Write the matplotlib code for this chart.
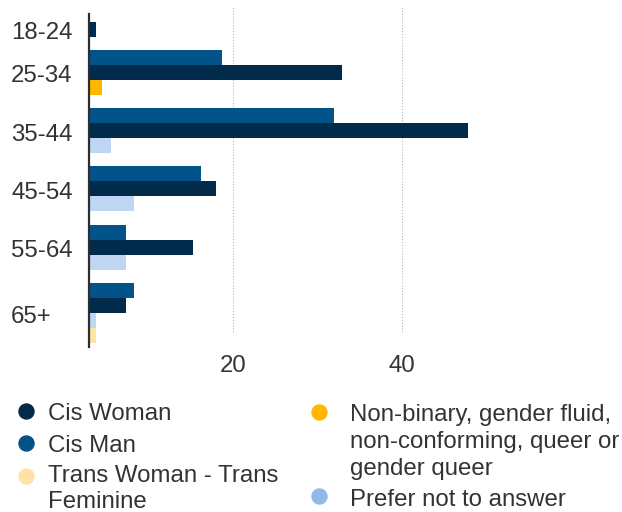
import matplotlib
matplotlib.use("Agg")
import matplotlib.pyplot as plt
from matplotlib.lines import Line2D
from matplotlib.transforms import ScaledTranslation

plt.rcParams["font.family"] = ["Liberation Sans", "DejaVu Sans"]

# ---- data -------------------------------------------------------------
age_groups = ["18-24", "25-34", "35-44", "45-54", "55-64", "65+"]

# series listed in the order the bars are stacked inside each age group
series_names = [
    "Cis Man",
    "Cis Woman",
    "Non-binary, gender fluid,\nnon-conforming, queer or\ngender queer",
    "Prefer not to answer",
    "Trans Woman - Trans\nFeminine",
]
cis_man = [0, 18.7, 32.0, 16.3, 7.4, 8.3]
cis_woman = [3.8, 32.9, 47.8, 18.0, 15.3, 7.4]
non_binary = [0, 4.6, 0, 0, 0, 0]
prefer_not = [0, 0, 5.6, 8.3, 7.4, 3.8]
trans_woman = [0, 0, 0, 0, 0, 3.8]
series_values = [cis_man, cis_woman, non_binary, prefer_not, trans_woman]

x_ticks = [20, 40]

# ---- style ------------------------------------------------------------
bar_colors = ["#02538a", "#012a4b", "#ffb800", "#bed6f2", "#ffe3a5"]
legend_colors = {
    "Cis Woman": "#012a4b",
    "Cis Man": "#02538a",
    "Trans Woman - Trans\nFeminine": "#fde4a6",
    "Non-binary, gender fluid,\nnon-conforming, queer or\ngender queer": "#ffb800",
    "Prefer not to answer": "#90b9e8",
}
text_color = "#333333"
font_size = 17.3

W, H = 622, 512
fig = plt.figure(figsize=(W / 100, H / 100), dpi=100)

ax_left, ax_right, ax_top, ax_bottom = 89, 610, 14, 347
ax = fig.add_axes([ax_left / W, 1 - ax_bottom / H,
                   (ax_right - ax_left) / W, (ax_bottom - ax_top) / H])

# ---- bars: only non-empty series are drawn, packed within each group ----
gap = 0.88
pos = 0.0
group_centres = []
for gi, grp in enumerate(age_groups):
    start = pos
    for si, vals in enumerate(series_values):
        v = vals[gi]
        if v > 0:
            ax.barh(pos + 0.5, v, height=1.0, color=bar_colors[si],
                    linewidth=0, zorder=3)
            pos += 1
    group_centres.append((start + pos) / 2)
    pos += gap

# ---- axes ---------------------------------------------------------------
px_per_unit = 8.465
zero_px = 63.4
ax.set_xlim((ax_left - zero_px) / px_per_unit, (ax_right - zero_px) / px_per_unit)
unit_px = 15.0
top_pad = (21.7 - ax_top) / unit_px
span = (ax_bottom - ax_top) / unit_px
ax.set_ylim(span - top_pad, -top_pad)

for s in ["top", "right", "bottom"]:
    ax.spines[s].set_visible(False)
ax.spines["left"].set_color("#2d2d2d")
ax.spines["left"].set_linewidth(1.6)
ax.spines["left"].set_zorder(5)

ax.set_xticks(x_ticks)
ax.set_xticklabels([str(t) for t in x_ticks])
ax.tick_params(axis="x", length=0, pad=5.5, labelsize=font_size,
               labelcolor=text_color)

ax.set_yticks(group_centres)
ax.set_yticklabels(age_groups)
ax.tick_params(axis="y", length=0, pad=(ax_left - 11) * 72 / 100,
               labelsize=font_size, labelcolor=text_color)
nudge = ScaledTranslation(0, -1.5 / 100, fig.dpi_scale_trans)
for lbl in ax.get_yticklabels():
    lbl.set_horizontalalignment("left")
    lbl.set_transform(lbl.get_transform() + nudge)

# dotted vertical gridlines
grid_lo = (ax_bottom - 332) / (ax_bottom - ax_top)
grid_hi = (ax_bottom - 7) / (ax_bottom - ax_top)
for t in x_ticks:
    ax.axvline(t, ymin=grid_lo, ymax=grid_hi, color="#b5b5b5",
               linewidth=0.8, linestyle=(0, (1, 1.6)), zorder=1,
               clip_on=False)

# ---- legend ---------------------------------------------------------------
legend_layout = [
    # name, marker x, marker y, text x, first baseline, line step
    ("Cis Woman", 25.5, 410.5, 48, 420.5, 26.8),
    ("Cis Man", 25.5, 442.5, 48, 452, 26.8),
    ("Trans Woman - Trans\nFeminine", 25.5, 475.5, 48, 482, 25.5),
    ("Non-binary, gender fluid,\nnon-conforming, queer or\ngender queer",
     319, 411.5, 350, 421.5, 26.8),
    ("Prefer not to answer", 319, 495.5, 350, 506.5, 26.8),
]
for name, mx, my, tx, base, step in legend_layout:
    fig.add_artist(Line2D([mx / W], [1 - my / H], marker="o", markersize=10.8,
                          color=legend_colors[name], linestyle="none",
                          transform=fig.transFigure))
    for li, line in enumerate(name.split("\n")):
        fig.text(tx / W, 1 - (base + li * step) / H, line,
                 fontsize=font_size, color=text_color,
                 ha="left", va="baseline")

fig.savefig("out.png", dpi=100)
